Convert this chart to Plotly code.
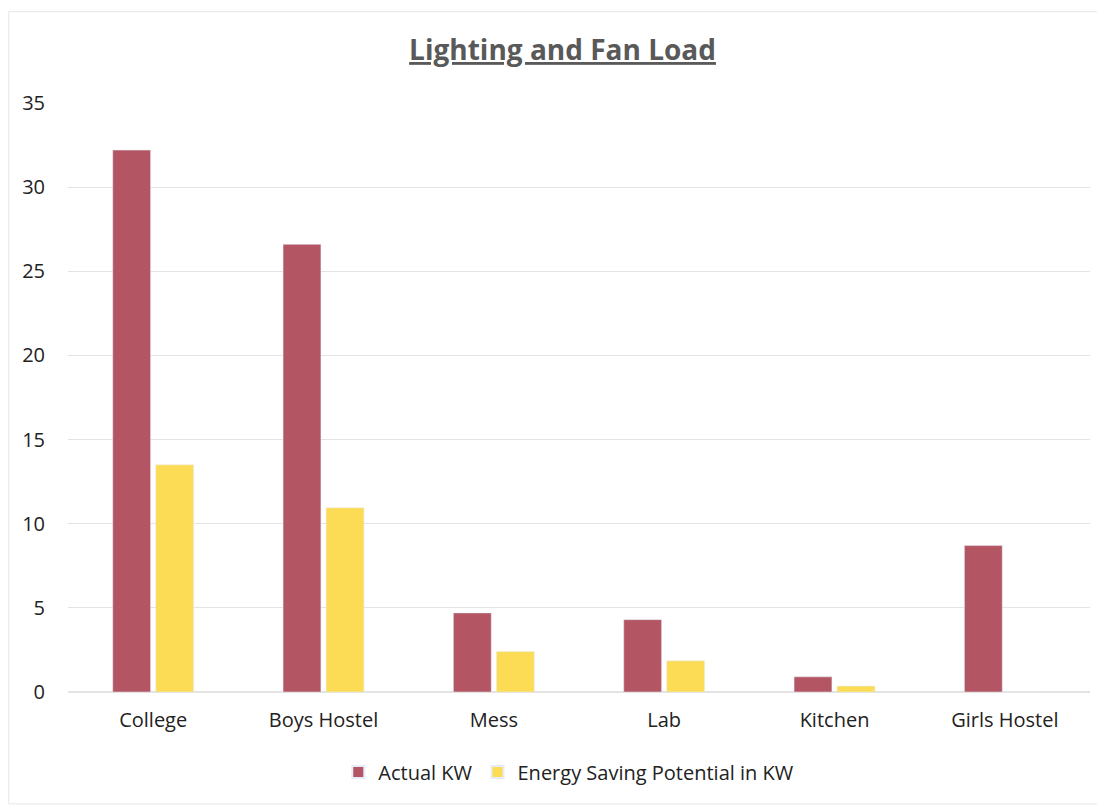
import plotly.graph_objects as go

categories = ["College", "Boys Hostel", "Mess", "Lab", "Kitchen", "Girls Hostel"]
actual_kw = [32.2, 26.6, 4.7, 4.3, 0.9, 8.7]
saving_kw = [13.5, 10.95, 2.4, 1.85, 0.35, 0]
y_ticks = [0, 5, 10, 15, 20, 25, 30, 35]

fig = go.Figure()
fig.add_trace(go.Bar(name="Actual KW", x=categories, y=actual_kw,
                     marker=dict(color="#B35563")))
fig.add_trace(go.Bar(name="Energy Saving Potential in KW", x=categories, y=saving_kw,
                     marker=dict(color="#FDDC55")))

text_color = "#222222"
fig.update_layout(
    width=1097, height=797,
    paper_bgcolor="white", plot_bgcolor="white",
    barmode="group", bargap=0.495, bargroupgap=0.12,
    margin=dict(l=60, r=15, t=95, b=113),
    font=dict(family="Open Sans, Liberation Sans, sans-serif", color=text_color, size=20),
    title=dict(text="<b><u>Lighting and Fan Load</u></b>", x=0.5055, xanchor="center",
               y=0.947, yanchor="middle",
               font=dict(size=28, color="#595959")),
    legend=dict(orientation="h", x=0.49, xanchor="center", y=-0.136, yanchor="middle",
                font=dict(size=20, color=text_color), itemsizing="constant",
                itemwidth=30, traceorder="normal"),
    xaxis=dict(showgrid=False, showline=False, ticks="", ticklabelstandoff=14,
               tickfont=dict(size=20, color=text_color)),
    yaxis=dict(range=[0, 35], tickvals=y_ticks, showgrid=True, gridcolor="#E3E3E3",
               gridwidth=1, zeroline=True, zerolinecolor="#E3E3E3", ticks="",
               ticklabelstandoff=22, tickfont=dict(size=20, color=text_color)),
    shapes=[dict(type="rect", xref="paper", yref="paper",
                 x0=-0.058, x1=1.012, y0=-0.19, y1=1.155,
                 line=dict(color="#E6E6E6", width=1))]
)

fig.write_html("out.html")
